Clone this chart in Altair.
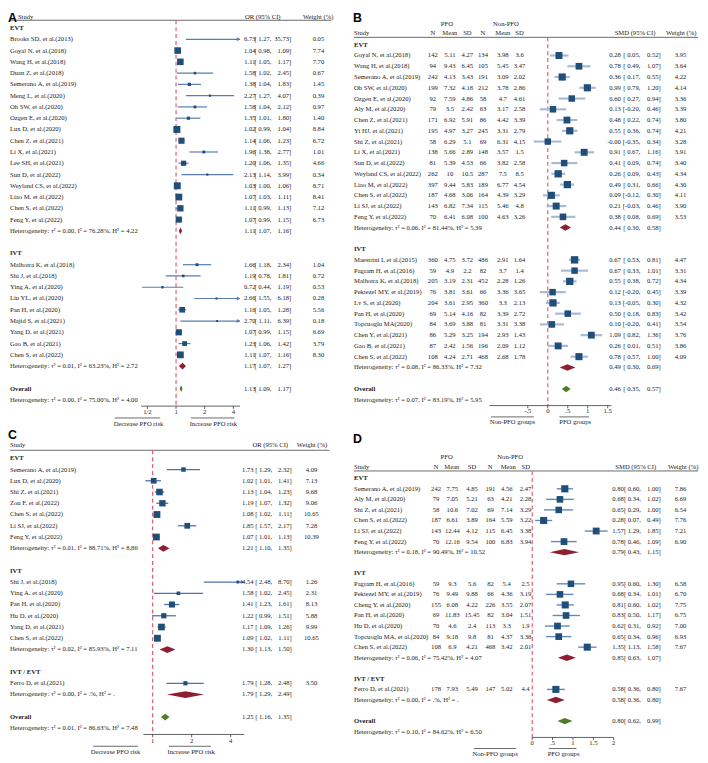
import math
import altair as alt
import pandas as pd

# ===================== DATA =====================
# ---- Panel A : OR (95% CI) ----
A_EVT_STUDY = ["Brooks SD, et al.(2013)", "Goyal N, et al.(2018)", "Wang H, et al.(2018)", "Duan Z, et al.(2018)",
               "Semerano A, et al.(2019)", "Meng L, et al.(2020)", "Oh SW, et al.(2020)", "Ozgen E, et al.(2020)",
               "Lux D, et al.(2020)", "Chen Z, et al.(2021)", "Li X, et al.(2021)", "Lee SH, et al.(2021)",
               "Sun D, et al.(2022)", "Weyland CS, et al.(2022)", "Liao M, et al.(2022)", "Chen S, et al.(2022)",
               "Feng Y, et al.(2022)"]
A_EVT_EST = [6.73, 1.04, 1.11, 1.58, 1.38, 2.27, 1.58, 1.35, 1.02, 1.14, 1.96, 1.20, 2.13, 1.03, 1.07, 1.11, 1.07]
A_EVT_LO = [1.27, 0.98, 1.05, 1.02, 1.04, 1.27, 1.04, 1.01, 0.99, 1.06, 1.38, 1.06, 1.14, 1.00, 1.03, 0.99, 0.99]
A_EVT_HI = [35.73, 1.09, 1.17, 2.45, 1.83, 4.07, 2.12, 1.80, 1.04, 1.23, 2.77, 1.35, 3.99, 1.06, 1.11, 1.13, 1.15]
A_EVT_W = [0.05, 7.74, 7.70, 0.67, 1.45, 0.39, 0.97, 1.40, 8.84, 6.72, 1.01, 4.66, 0.34, 8.71, 8.41, 7.12, 6.73]
A_EVT_SUM = [1.11, 1.07, 1.16]
A_EVT_HET = ["0.00", "76.28", "4.22"]

A_IVT_STUDY = ["Malhotra K, et al.(2018)", "Shi J, et al.(2018)", "Ying A, et al.(2020)", "Liu YL, et al.(2020)",
               "Pan H, et al.(2020)", "Majid S, et al.(2021)", "Yang D, et al.(2021)", "Gao B, et al.(2021)",
               "Chen S, et al.(2022)"]
A_IVT_EST = [1.66, 1.19, 0.72, 2.66, 1.16, 2.70, 1.07, 1.23, 1.11]
A_IVT_LO = [1.18, 0.78, 0.44, 1.55, 1.05, 1.11, 0.99, 1.06, 1.07]
A_IVT_HI = [2.34, 1.81, 1.19, 6.18, 1.28, 6.39, 1.15, 1.42, 1.16]
A_IVT_W = [1.04, 0.72, 0.53, 0.28, 5.56, 0.18, 6.69, 3.79, 8.30]
A_IVT_SUM = [1.17, 1.07, 1.27]
A_IVT_HET = ["0.01", "63.23", "2.72"]
A_ALL_SUM = [1.13, 1.09, 1.17]
A_ALL_HET = ["0.00", "75.00", "4.00"]
A_TICKS = [0.5, 1, 2, 4]
A_TICK_LABELS = ["1/2", "1", "2", "4"]

# ---- Panel B : SMD (95% CI) ----
B_EVT_STUDY = ["Goyal N, et al.(2018)", "Wang H, et al.(2018)", "Semerano A, et al.(2019)", "Oh SW, et al.(2020)",
               "Ozgen E, et al.(2020)", "Aly M, et al.(2020)", "Chen Z, et al.(2021)", "Yi HJ, et al.(2021)",
               "Shi Z, et al.(2021)", "Li X, et al.(2021)", "Sun D, et al.(2022)", "Weyland CS, et al.(2022)",
               "Liao M, et al.(2022)", "Chen S, et al.(2022)", "Li SJ, et al.(2022)", "Feng Y, et al.(2022)"]
B_EVT_N1 = [142, 94, 242, 199, 92, 79, 171, 195, 58, 138, 81, 262, 397, 187, 143, 70]
B_EVT_M1 = [5.11, 9.43, 4.13, 7.32, 7.59, 3.5, 6.92, 4.97, 6.29, 5.66, 5.39, 10, 9.44, 4.68, 6.82, 6.41]
B_EVT_SD1 = [4.27, 6.45, 3.43, 4.18, 4.86, 2.42, 5.91, 3.27, 5.1, 2.89, 4.53, 10.5, 5.83, 3.06, 7.34, 6.08]
B_EVT_N2 = [134, 105, 191, 212, 58, 63, 86, 245, 69, 148, 66, 287, 189, 164, 115, 100]
B_EVT_M2 = [3.98, 5.45, 3.09, 3.78, 4.7, 3.17, 4.42, 3.31, 6.31, 3.57, 3.82, 7.5, 6.77, 4.39, 5.46, 4.63]
B_EVT_SD2 = [3.6, 3.47, 2.02, 2.86, 4.61, 2.58, 3.39, 2.79, 4.15, 1.5, 2.58, 8.5, 4.54, 3.29, 4.8, 3.26]
B_EVT_EST = [0.28, 0.78, 0.36, 0.99, 0.60, 0.13, 0.48, 0.55, -0.0, 0.91, 0.41, 0.26, 0.49, 0.09, 0.21, 0.38]
B_EVT_LO = [0.05, 0.49, 0.17, 0.79, 0.27, -0.20, 0.22, 0.36, -0.35, 0.67, 0.09, 0.09, 0.31, -0.12, -0.03, 0.08]
B_EVT_HI = [0.52, 1.07, 0.55, 1.20, 0.94, 0.46, 0.74, 0.74, 0.34, 1.16, 0.74, 0.43, 0.66, 0.30, 0.46, 0.69]
B_EVT_W = [3.95, 3.64, 4.22, 4.14, 3.36, 3.39, 3.80, 4.21, 3.28, 3.91, 3.40, 4.34, 4.30, 4.11, 3.90, 3.53]
B_EVT_SUM = [0.44, 0.30, 0.58]
B_EVT_HET = ["0.06", "81.44", "5.39"]

B_IVT_STUDY = ["Maestrini I, et al.(2015)", "Pagram H, et al.(2016)", "Malhotra K, et al.(2018)",
               "Pektezel MY, et al.(2019)", "Lv S, et al.(2020)", "Pan H, et al.(2020)", "Topcuoglu MA(2020)",
               "Chen Y, et al.(2021)", "Gao B, et al.(2021)", "Chen S, et al.(2022)"]
B_IVT_N1 = [360, 59, 205, 76, 204, 69, 84, 86, 87, 108]
B_IVT_M1 = [4.75, 4.9, 3.19, 3.81, 3.61, 5.14, 3.69, 5.29, 2.42, 4.24]
B_IVT_SD1 = [3.72, 2.2, 2.31, 3.61, 2.95, 4.16, 3.88, 3.25, 1.56, 2.71]
B_IVT_N2 = [486, 82, 452, 66, 360, 82, 81, 194, 196, 468]
B_IVT_M2 = [2.91, 3.7, 2.28, 3.36, 3.3, 3.39, 3.31, 2.93, 2.09, 2.68]
B_IVT_SD2 = [1.64, 1.4, 1.26, 3.65, 2.13, 2.72, 3.38, 1.43, 1.12, 1.78]
B_IVT_EST = [0.67, 0.67, 0.55, 0.12, 0.13, 0.50, 0.10, 1.09, 0.26, 0.78]
B_IVT_LO = [0.53, 0.33, 0.38, -0.20, -0.05, 0.18, -0.20, 0.82, 0.01, 0.57]
B_IVT_HI = [0.81, 1.01, 0.72, 0.45, 0.30, 0.83, 0.41, 1.36, 0.51, 1.00]
B_IVT_W = [4.47, 3.31, 4.34, 3.39, 4.32, 3.42, 3.54, 3.76, 3.86, 4.09]
B_IVT_SUM = [0.49, 0.30, 0.69]
B_IVT_HET = ["0.08", "86.33", "7.32"]
B_ALL_SUM = [0.46, 0.35, 0.57]
B_ALL_HET = ["0.07", "83.19", "5.95"]
B_TICKS = [-0.5, 0, 0.5, 1, 1.5]
B_TICK_LABELS = ["-.5", "0", ".5", "1", "1.5"]

# ---- Panel C : OR (95% CI) ----
C_EVT_STUDY = ["Semerano A, et al.(2019)", "Lux D, et al.(2020)", "Shi Z, et al.(2021)", "Zou F, et al.(2022)",
               "Chen S, et al.(2022)", "Li SJ, et al.(2022)", "Feng Y, et al.(2022)"]
C_EVT_EST = [1.73, 1.02, 1.13, 1.19, 1.08, 1.85, 1.07]
C_EVT_LO = [1.29, 1.01, 1.04, 1.07, 1.02, 1.57, 1.01]
C_EVT_HI = [2.32, 1.41, 1.23, 1.32, 1.11, 2.17, 1.13]
C_EVT_LO_DRAWN = [1.29, 0.88, 1.04, 1.07, 1.02, 1.57, 1.01]   # interval as drawn in the figure
C_EVT_HI_DRAWN = [2.32, 1.16, 1.23, 1.32, 1.11, 2.17, 1.13]
C_EVT_W = [4.09, 7.13, 9.68, 9.06, 10.65, 7.28, 10.39]
C_EVT_SUM = [1.21, 1.10, 1.35]
C_EVT_HET = ["0.01", "88.71", "8.86"]

C_IVT_STUDY = ["Shi J, et al.(2018)", "Ying A, et al.(2020)", "Pan H, et al.(2020)", "Hu D, et al.(2020)",
               "Yang D, et al.(2021)", "Chen S, et al.(2022)"]
C_IVT_EST = [4.54, 1.58, 1.41, 1.22, 1.17, 1.09]
C_IVT_LO = [2.48, 1.02, 1.23, 0.99, 1.09, 1.02]
C_IVT_HI = [8.70, 2.45, 1.61, 1.51, 1.26, 1.11]
C_IVT_W = [1.26, 2.31, 8.13, 5.88, 9.99, 10.65]
C_IVT_SUM = [1.30, 1.13, 1.50]
C_IVT_HET = ["0.02", "85.93", "7.11"]

C_MIX_STUDY = ["Ferro D, et al.(2021)"]
C_MIX_EST = [1.79]
C_MIX_LO = [1.28]
C_MIX_HI = [2.48]
C_MIX_W = [3.50]
C_MIX_SUM = [1.79, 1.29, 2.49]
C_MIX_HET = ["0.00", ".", "."]
C_ALL_SUM = [1.25, 1.16, 1.35]
C_ALL_HET = ["0.01", "86.63", "7.48"]
C_TICKS = [1, 2, 4]
C_TICK_LABELS = ["1", "2", "4"]

# ---- Panel D : SMD (95% CI) ----
D_EVT_STUDY = ["Semerano A, et al.(2019)", "Aly M, et al.(2020)", "Shi Z, et al.(2021)", "Chen S, et al.(2022)",
               "Li SJ, et al.(2022)", "Feng Y, et al.(2022)"]
D_EVT_N1 = [242, 79, 58, 187, 143, 70]
D_EVT_M1 = [7.75, 7.05, 10.6, 6.61, 12.44, 12.16]
D_EVT_SD1 = [4.85, 5.21, 7.02, 3.89, 4.12, 9.54]
D_EVT_N2 = [191, 63, 69, 164, 115, 100]
D_EVT_M2 = [4.56, 4.21, 7.14, 5.59, 6.45, 6.83]
D_EVT_SD2 = [2.47, 2.28, 3.29, 3.22, 3.38, 3.94]
D_EVT_EST = [0.80, 0.68, 0.65, 0.28, 1.57, 0.78]
D_EVT_LO = [0.60, 0.34, 0.29, 0.07, 1.29, 0.46]
D_EVT_HI = [1.00, 1.02, 1.00, 0.49, 1.85, 1.09]
D_EVT_W = [7.86, 6.69, 6.54, 7.76, 7.21, 6.90]
D_EVT_SUM = [0.79, 0.43, 1.15]
D_EVT_HET = ["0.18", "90.49", "10.52"]

D_IVT_STUDY = ["Pagram H, et al.(2016)", "Pektezel MY, et al.(2019)", "Cheng Y, et al.(2020)", "Pan H, et al.(2020)",
               "Hu D, et al.(2020)", "Topcuoglu MA, et al.(2020)", "Chen S, et al.(2022)"]
D_IVT_N1 = [59, 76, 155, 69, 70, 84, 108]
D_IVT_M1 = [9.3, 9.49, 6.08, 11.83, 4.6, 9.18, 6.9]
D_IVT_SD1 = [5.6, 9.88, 4.22, 15.45, 2.4, 9.8, 4.21]
D_IVT_N2 = [82, 66, 226, 82, 113, 81, 468]
D_IVT_M2 = [5.4, 4.36, 3.55, 3.04, 3.3, 4.37, 3.42]
D_IVT_SD2 = [2.5, 3.19, 2.07, 1.51, 1.9, 3.38, 2.01]
D_IVT_EST = [0.95, 0.68, 0.81, 0.83, 0.62, 0.65, 1.35]
D_IVT_LO = [0.60, 0.34, 0.60, 0.50, 0.31, 0.34, 1.13]
D_IVT_HI = [1.30, 1.01, 1.02, 1.17, 0.92, 0.96, 1.58]
D_IVT_W = [6.58, 6.70, 7.75, 6.75, 7.00, 6.93, 7.67]
D_IVT_SUM = [0.85, 0.63, 1.07]
D_IVT_HET = ["0.06", "75.42", "4.07"]

D_MIX_STUDY = ["Ferro D, et al.(2021)"]
D_MIX_N1 = [178]
D_MIX_M1 = [7.93]
D_MIX_SD1 = [5.49]
D_MIX_N2 = [147]
D_MIX_M2 = [5.02]
D_MIX_SD2 = [4.4]
D_MIX_EST = [0.58]
D_MIX_LO = [0.36]
D_MIX_HI = [0.80]
D_MIX_W = [7.67]
D_MIX_SUM = [0.58, 0.36, 0.80]
D_MIX_HET = ["0.00", ".", "."]
D_ALL_SUM = [0.80, 0.62, 0.99]
D_ALL_HET = ["0.10", "84.62", "6.50"]
D_TICKS = [0, 0.5, 1, 1.5, 2]
D_TICK_LABELS = ["0", ".5", "1", "1.5", "2"]

# ===================== STYLE / LAYOUT =====================
FONT = "Liberation Serif"
FS = 6.7
INK = "#1b1b1b"
SQUARE = "#1f4e79"
SUB_DIAMOND = "#8e1f30"
ALL_DIAMOND = "#4f7c2c"
REFLINE = "#e4606e"
AXISC = "#3a3a3a"
W, H = 700, 754


def PX(rx):
    return rx - 8.0


def PY(ry):
    return ry - 8.0


def f2(v):
    return f"{v:.2f}"


def flo(v):
    neg = math.copysign(1.0, v) < 0
    return "[" + ("" if neg else " ") + f"{v:.2f},"


def fhi(v):
    return f"{v:.2f}]"


def fg(v):
    return f"{v:g}"


def het_str(h):
    return f"Heterogeneity: \u03c4\u00b2 = {h[0]}, I\u00b2 = {h[1]}%, H\u00b2 = {h[2]}"


def G(label, study, est, lo, hi, w, summ, het, cols=None, plo=None, phi=None):
    return dict(label=label, study=study, est=est, lo=lo, hi=hi, w=w, summ=summ, het=het,
                cols=cols, plo=plo, phi=phi)


def build_panel(P):
    y0, sp = P["y0"], P["sp"]
    dom = P["dom"]
    srows, hrows, lrows, sums, dia = [], [], [], [], []
    r = -1
    for g in P["groups"]:
        lrows.append({"row": r, "t": g["label"]})
        r += 1
        for i, name in enumerate(g["study"]):
            lo_p = g["plo"][i] if g["plo"] else g["lo"][i]
            hi_p = g["phi"][i] if g["phi"] else g["hi"][i]
            d = {"row": r, "study": name, "est": g["est"][i], "w": g["w"][i],
                 "lo_c": max(lo_p, dom[0]), "hi_c": min(hi_p, dom[1]),
                 "arrow": bool(hi_p > dom[1]), "inside": bool(dom[0] <= g["est"][i] <= dom[1]),
                 "es": f2(g["est"][i]), "ls": flo(g["lo"][i]), "hs": fhi(g["hi"][i]), "ws": f2(g["w"][i])}
            for k, col in enumerate(g["cols"] or []):
                d[f"c{k}"] = fg(col[i])
            srows.append(d)
            r += 1
        hrows.append({"row": r, "t": het_str(g["het"])})
        s = g["summ"]
        sums.append({"row": r, "es": f2(s[0]), "ls": flo(s[1]), "hs": fhi(s[2])})
        dia.append((s, r, SUB_DIAMOND))
        r += 2
    lrows.append({"row": r, "t": "Overall"})
    s = P["overall"]
    sums.append({"row": r, "es": f2(s[0]), "ls": flo(s[1]), "hs": fhi(s[2])})
    dia.append((s, r, ALL_DIAMOND))
    hrows.append({"row": r + 1, "t": het_str(P["overall_het"])})
    N = r + 1

    sdf = pd.DataFrame(srows)
    hdf = pd.DataFrame(hrows)
    ldf = pd.DataFrame(lrows)
    sumdf = pd.DataFrame(sums)

    ys = alt.Scale(domain=[-4, N + 3], range=[PY(y0 - 4 * sp), PY(y0 + (N + 3) * sp)], zero=False, nice=False)
    xs = alt.Scale(type=P["xtype"], domain=dom, range=[PX(P["xr"][0]), PX(P["xr"][1])], zero=False, nice=False)

    def Yf(f="row"):
        return alt.Y(f"{f}:Q", scale=ys, axis=None)

    def Xf(f):
        return alt.X(f"{f}:Q", scale=xs, axis=None)

    def tl(df, field, x, align, bold=False):
        return alt.Chart(df).mark_text(align=align, baseline="middle", font=FONT, fontSize=FS,
                                       fontWeight="bold" if bold else "normal", color=INK).encode(
            x=alt.value(PX(x)), y=Yf(), text=alt.Text(f"{field}:N"))

    def one(text, x, row, align, bold=False):
        return tl(pd.DataFrame({"row": [row], "t": [text]}), "t", x, align, bold)

    L = []
    # header rule
    hx0, hx1, hrow = P["hline"]
    L.append(alt.Chart(pd.DataFrame({"row": [hrow]})).mark_rule(color="#444444", strokeWidth=0.8).encode(
        x=alt.value(PX(hx0)), x2=alt.value(PX(hx1)), y=Yf()))
    # headers
    for (t, x, al, row) in P["headers"]:
        L.append(one(t, x, row, al))
    # reference dashed line
    L.append(alt.Chart(pd.DataFrame({"v": [P["ref"]], "r1": [hrow], "r2": [N + 0.55]})).mark_rule(
        color=REFLINE, strokeWidth=1.2, strokeDash=[4, 3]).encode(x=Xf("v"), y=Yf("r1"), y2="r2:Q"))
    # axis
    L.append(alt.Chart(pd.DataFrame({"a": [dom[0]], "b": [dom[1]], "row": [N + 0.55]})).mark_rule(
        color=AXISC, strokeWidth=0.8).encode(x=Xf("a"), x2="b:Q", y=Yf()))
    tdf = pd.DataFrame({"v": P["ticks"], "lab": P["tick_labels"], "r1": N + 0.55, "r2": N + 0.8, "rl": N + 1.1})
    L.append(alt.Chart(tdf).mark_rule(color=AXISC, strokeWidth=0.8).encode(x=Xf("v"), y=Yf("r1"), y2="r2:Q"))
    L.append(alt.Chart(tdf).mark_text(baseline="middle", align="center", font=FONT, fontSize=FS, color=INK).encode(
        x=Xf("v"), y=Yf("rl"), text="lab:N"))
    # favour labels
    for (t, a, b, c) in P["legend"]:
        L.append(alt.Chart(pd.DataFrame({"row": [N + 1.6]})).mark_rule(color="#444444", strokeWidth=0.8).encode(
            x=alt.value(PX(a)), x2=alt.value(PX(b)), y=Yf()))
        L.append(one(t, c, N + 2.1, "center"))
    # CI lines, arrows, squares
    L.append(alt.Chart(sdf).mark_rule(color=P["ci_color"], strokeWidth=P["ci_width"]).encode(
        x=Xf("lo_c"), x2="hi_c:Q", y=Yf()))
    adf = sdf[sdf["arrow"]]
    if len(adf):
        L.append(alt.Chart(adf).mark_point(shape="triangle-right", filled=True, size=16, opacity=1,
                                           color=P["ci_color"], xOffset=-1.5).encode(x=Xf("hi_c"), y=Yf()))
    L.append(alt.Chart(sdf[sdf["inside"]]).mark_square(color=SQUARE, opacity=1).encode(
        x=Xf("est"), y=Yf(),
        size=alt.Size("w:Q", scale=alt.Scale(domain=[0, max(sdf["w"])], range=[3, P["smax"]], zero=False),
                      legend=None)))
    # diamonds: one horizontal-band area per summary (widest at the row, pointed above/below)
    for (s, row, col) in dia:
        dd = pd.DataFrame({"dr": [row - 0.3, row, row + 0.3],
                           "da": [s[0], s[1], s[0]],
                           "db": [s[0], s[2], s[0]]})
        L.append(alt.Chart(dd).mark_area(orient="horizontal", color=col, opacity=1, interpolate="linear").encode(
            y=Yf("dr"), x=Xf("da"), x2="db:Q"))
    # table text
    cx = P["cols_x"]
    L.append(tl(sdf, "study", cx["study"], "left"))
    for k, x in enumerate(cx.get("extra", [])):
        L.append(tl(sdf, f"c{k}", x, "center"))
    for df in (sdf, sumdf):
        L.append(tl(df, "es", cx["est"], "right"))
        L.append(tl(df, "ls", cx["lo"], "right"))
        L.append(tl(df, "hs", cx["hi"], "right"))
    L.append(tl(sdf, "ws", cx["w"], "center"))
    L.append(tl(hdf, "t", cx["study"], "left"))
    L.append(tl(ldf, "t", cx["study"], "left", bold=True))
    # panel letter
    lt, lx, ly = P["letter"]
    L.append(alt.Chart(pd.DataFrame({"t": [lt]})).mark_text(
        align="left", baseline="top", font="Liberation Sans", fontSize=12.5, fontWeight="bold", color="#000000").encode(
        x=alt.value(lx), y=alt.value(ly), text="t:N"))
    return L


PANEL_A = dict(
    groups=[G("EVT", A_EVT_STUDY, A_EVT_EST, A_EVT_LO, A_EVT_HI, A_EVT_W, A_EVT_SUM, A_EVT_HET),
            G("IVT", A_IVT_STUDY, A_IVT_EST, A_IVT_LO, A_IVT_HI, A_IVT_W, A_IVT_SUM, A_IVT_HET)],
    overall=A_ALL_SUM, overall_het=A_ALL_HET,
    y0=35.3, sp=11.4, xtype="log", dom=[0.43, 4.7], xr=[142.7, 242.7], ref=1,
    ticks=A_TICKS, tick_labels=A_TICK_LABELS,
    hline=(10, 335, -1.69),
    headers=[("Study", 18, "left", -1.98), ("OR (95% CI)", 265.7, "center", -1.98),
             ("Weight (%)", 321.7, "center", -1.98)],
    cols_x=dict(study=10, est=258.5, lo=274.5, hi=294.5, w=322),
    legend=[("Decrease PFO risk", 116, 162, 140), ("Increase PFO risk", 193, 237, 215.7)],
    ci_color="#5a7db2", ci_width=1.2, smax=50, letter=("A", 0, 0))

PANEL_B = dict(
    groups=[G("EVT", B_EVT_STUDY, B_EVT_EST, B_EVT_LO, B_EVT_HI, B_EVT_W, B_EVT_SUM, B_EVT_HET,
              cols=[B_EVT_N1, B_EVT_M1, B_EVT_SD1, B_EVT_N2, B_EVT_M2, B_EVT_SD2]),
            G("IVT", B_IVT_STUDY, B_IVT_EST, B_IVT_LO, B_IVT_HI, B_IVT_W, B_IVT_SUM, B_IVT_HET,
              cols=[B_IVT_N1, B_IVT_M1, B_IVT_SD1, B_IVT_N2, B_IVT_M2, B_IVT_SD2])],
    overall=B_ALL_SUM, overall_het=B_ALL_HET,
    y0=51.7, sp=10.88, xtype="linear", dom=[-1.46, 1.59], xr=[495, 618.3], ref=0,
    ticks=B_TICKS, tick_labels=B_TICK_LABELS,
    hline=(358, 706, -1.69),
    headers=[("PFO", 452, "center", -2.93), ("Non-PFO", 511.7, "center", -2.93),
             ("Study", 358, "left", -2.06), ("N", 437.7, "center", -2.06), ("Mean", 455, "center", -2.06),
             ("SD", 472.7, "center", -2.06), ("N", 488.5, "center", -2.06), ("Mean", 508.5, "center", -2.06),
             ("SD", 525.5, "center", -2.06), ("SMD (95% CI)", 642.3, "center", -2.06),
             ("Weight (%)", 689, "center", -2.06)],
    cols_x=dict(study=358, extra=[437.7, 455, 472.7, 488.5, 508.5, 525.5], est=628, lo=647.7, hi=668.3, w=688.3),
    legend=[("Non-PFO groups", 496.7, 540, 518.3), ("PFO groups", 565.7, 595.7, 581.7)],
    ci_color="#a6bad6", ci_width=2.2, smax=56, letter=("B", 349, 0))

PANEL_C = dict(
    groups=[G("EVT", C_EVT_STUDY, C_EVT_EST, C_EVT_LO, C_EVT_HI, C_EVT_W, C_EVT_SUM, C_EVT_HET,
              plo=C_EVT_LO_DRAWN, phi=C_EVT_HI_DRAWN),
            G("IVT", C_IVT_STUDY, C_IVT_EST, C_IVT_LO, C_IVT_HI, C_IVT_W, C_IVT_SUM, C_IVT_HET),
            G("IVT / EVT", C_MIX_STUDY, C_MIX_EST, C_MIX_LO, C_MIX_HI, C_MIX_W, C_MIX_SUM, C_MIX_HET)],
    overall=C_ALL_SUM, overall_het=C_ALL_HET,
    y0=470.5, sp=11.38, xtype="log", dom=[0.85, 5.06], xr=[145, 246.7], ref=1,
    ticks=C_TICKS, tick_labels=C_TICK_LABELS,
    hline=(10, 333, -1.71),
    headers=[("Study", 10, "left", -2.15), ("OR (95% CI)", 273.3, "center", -2.15),
             ("Weight (%)", 315.5, "center", -2.15)],
    cols_x=dict(study=10, est=256.5, lo=275.3, hi=295, w=315),
    legend=[("Decrease PFO risk", 94.3, 139.3, 116.7), ("Increase PFO risk", 170.7, 213.3, 193.3)],
    ci_color="#4e72a8", ci_width=1.3, smax=48, letter=("C", 0, 422))

PANEL_D = dict(
    groups=[G("EVT", D_EVT_STUDY, D_EVT_EST, D_EVT_LO, D_EVT_HI, D_EVT_W, D_EVT_SUM, D_EVT_HET,
              cols=[D_EVT_N1, D_EVT_M1, D_EVT_SD1, D_EVT_N2, D_EVT_M2, D_EVT_SD2]),
            G("IVT", D_IVT_STUDY, D_IVT_EST, D_IVT_LO, D_IVT_HI, D_IVT_W, D_IVT_SUM, D_IVT_HET,
              cols=[D_IVT_N1, D_IVT_M1, D_IVT_SD1, D_IVT_N2, D_IVT_M2, D_IVT_SD2]),
            G("IVT / EVT", D_MIX_STUDY, D_MIX_EST, D_MIX_LO, D_MIX_HI, D_MIX_W, D_MIX_SUM, D_MIX_HET,
              cols=[D_MIX_N1, D_MIX_M1, D_MIX_SD1, D_MIX_N2, D_MIX_M2, D_MIX_SD2])],
    overall=D_ALL_SUM, overall_het=D_ALL_HET,
    y0=490, sp=10.68, xtype="linear", dom=[0, 2], xr=[538.3, 620.7], ref=0,
    ticks=D_TICKS, tick_labels=D_TICK_LABELS,
    hline=(358, 706, -1.69),
    headers=[("PFO", 451.7, "center", -2.97), ("Non-PFO", 516, "center", -2.97),
             ("Study", 358, "left", -2.06), ("N", 441, "center", -2.06), ("Mean", 457, "center", -2.06),
             ("SD", 477.3, "center", -2.06), ("N", 495.7, "center", -2.06), ("Mean", 514, "center", -2.06),
             ("SD", 531.7, "center", -2.06), ("SMD (95% CI)", 643, "center", -2.06),
             ("Weight (%)", 691, "center", -2.06)],
    cols_x=dict(study=358, extra=[441, 457.5, 477.5, 496, 512.5, 531.5], est=631, lo=648.3, hi=668.3, w=688.3),
    legend=[("Non-PFO groups", 479.3, 521.7, 500.7), ("PFO groups", 555, 583, 570)],
    ci_color="#6487bb", ci_width=1.4, smax=52, letter=("D", 349, 426))

layers = []
for P in (PANEL_A, PANEL_B, PANEL_C, PANEL_D):
    layers += build_panel(P)

chart = alt.layer(*layers).resolve_scale(
    x="independent", y="independent", size="independent"
).properties(
    width=W, height=H, padding=0, autosize=alt.AutoSizeParams(type="none"), background="white"
).configure_view(stroke=None)

chart.save("out.html", embed_options={"renderer": "svg", "actions": False})
